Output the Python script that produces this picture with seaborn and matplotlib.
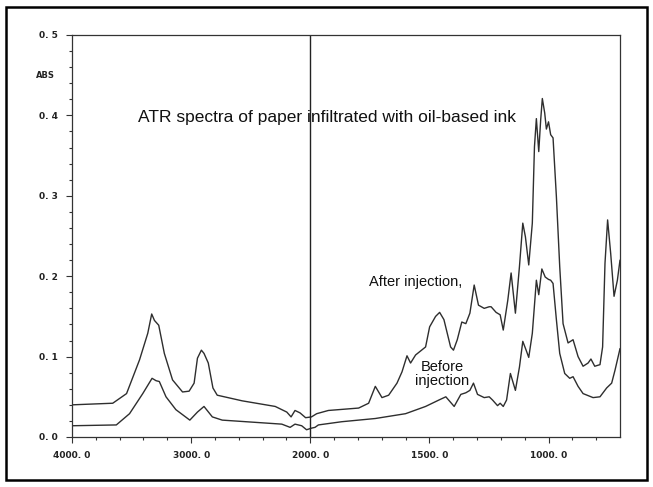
# ATR spectra - before / after ink injection
import numpy as np
import pandas as pd
import matplotlib
matplotlib.use('Agg')
import matplotlib.pyplot as plt
import seaborn as sns
from matplotlib.patches import Rectangle

# data (wavenumber cm-1, absorbance)
after_wn = [4000, 3658, 3542, 3433, 3364, 3331, 3308, 3272, 3225, 3156, 3072, 3017,
            2975, 2947, 2914, 2892, 2856, 2817, 2781, 2572, 2294, 2197, 2161, 2128,
            2086, 2039, 1995, 1973, 1924, 1797, 1755, 1727, 1699, 1671, 1636, 1615,
            1594, 1579, 1558, 1516, 1499, 1474, 1457, 1439, 1425, 1411, 1399, 1383,
            1364, 1347, 1330, 1312, 1294, 1270, 1249, 1241, 1220, 1203, 1190, 1171,
            1157, 1139, 1122, 1108, 1097, 1083, 1068, 1059, 1051, 1041, 1033, 1026,
            1016, 1009, 1000, 991, 981, 967, 953, 939, 918, 897, 876, 855, 834, 822,
            806, 784, 773, 763, 752, 739, 725, 711, 700]
after_abs = [0.040, 0.042, 0.054, 0.096, 0.129, 0.153, 0.145, 0.139, 0.104, 0.071, 0.056, 0.057,
             0.067, 0.098, 0.108, 0.104, 0.092, 0.061, 0.052, 0.045, 0.038, 0.031, 0.025, 0.033,
             0.030, 0.024, 0.025, 0.029, 0.033, 0.036, 0.042, 0.063, 0.049, 0.052, 0.067, 0.081,
             0.101, 0.092, 0.102, 0.112, 0.137, 0.150, 0.155, 0.146, 0.129, 0.112, 0.108, 0.121,
             0.143, 0.141, 0.154, 0.189, 0.164, 0.160, 0.162, 0.162, 0.155, 0.152, 0.133, 0.170,
             0.204, 0.154, 0.212, 0.266, 0.249, 0.214, 0.266, 0.361, 0.396, 0.355, 0.394, 0.421,
             0.403, 0.383, 0.392, 0.376, 0.372, 0.299, 0.212, 0.141, 0.117, 0.121, 0.100, 0.088, 0.092, 0.097,
             0.088, 0.090, 0.112, 0.216, 0.270, 0.228, 0.175, 0.195, 0.220]

before_wn = [4000, 3628, 3517, 3406, 3328, 3294, 3267, 3211, 3128, 3011, 2947, 2892,
             2822, 2739, 2239, 2169, 2128, 2072, 2031, 1995, 1980, 1966, 1868, 1727,
             1600, 1516, 1460, 1431, 1396, 1368, 1347, 1330, 1315, 1298, 1270, 1249,
             1235, 1214, 1203, 1190, 1176, 1160, 1139, 1122, 1108, 1094, 1083, 1068,
             1051, 1041, 1028, 1014, 1000, 991, 981, 967, 953, 932, 911, 897, 876,
             855, 813, 784, 756, 735, 721, 703, 700]
before_abs = [0.014, 0.015, 0.029, 0.054, 0.073, 0.070, 0.069, 0.050, 0.034, 0.021, 0.031, 0.038,
              0.025, 0.021, 0.016, 0.012, 0.016, 0.014, 0.009, 0.011, 0.012, 0.015, 0.019, 0.023,
              0.029, 0.038, 0.046, 0.050, 0.038, 0.053, 0.055, 0.058, 0.067, 0.053, 0.049, 0.050,
              0.046, 0.039, 0.042, 0.038, 0.046, 0.079, 0.058, 0.087, 0.119, 0.108, 0.099, 0.129,
              0.195, 0.177, 0.209, 0.199, 0.196, 0.195, 0.191, 0.146, 0.104, 0.079, 0.073, 0.075, 0.063,
              0.054, 0.049, 0.050, 0.061, 0.067, 0.083, 0.106, 0.110]

x_major = [4000, 3000, 2000, 1500, 1000]
x_labels = ['4000. 0', '3000. 0', '2000. 0', '1500. 0', '1000. 0']
y_major = [0.0, 0.1, 0.2, 0.3, 0.4, 0.5]
y_labels = ['0. 0', '0. 1', '0. 2', '0. 3', '0. 4', '0. 5']

after = pd.DataFrame({'wn': after_wn, 'abs': after_abs})
before = pd.DataFrame({'wn': before_wn, 'abs': before_abs})

sns.set_style('ticks')
plt.rcParams['font.family'] = ['Liberation Sans', 'DejaVu Sans']

fig = plt.figure(figsize=(6.53, 4.87), dpi=100)
ax = fig.add_axes([72/653, 1-437/487, 548/653, 402/487])

line_col = '#2e2e2e'
sns.lineplot(data=after, x='wn', y='abs', ax=ax, color=line_col, lw=1.0, estimator=None, sort=False)
sns.lineplot(data=before, x='wn', y='abs', ax=ax, color=line_col, lw=1.0, estimator=None, sort=False)

# IR-style axis: scale doubles below 2000 cm-1
def fwd(w):
    w = np.asarray(w, dtype=float)
    return np.where(w >= 2000, w, 2*w - 2000)

def inv(p):
    p = np.asarray(p, dtype=float)
    return np.where(p >= 2000, p, (p + 2000) / 2)

ax.set_xscale('function', functions=(fwd, inv))
ax.set_xlim(4000, 700)
ax.set_ylim(0, 0.5)

ax.axvline(2000, color='#222222', lw=1.0)

ax.set_xticks(x_major)
ax.set_xticklabels(x_labels)
ax.set_xticks(list(range(3800, 2000, -200)) + [1900, 1800, 1700, 1600, 1400, 1300, 1200, 1100, 900, 800], minor=True)
ax.set_yticks(y_major)
ax.set_yticklabels(y_labels)
ax.set_yticks([v/100 for v in range(2, 50, 2) if v % 10], minor=True)

ax.tick_params(which='major', direction='out', length=4, width=0.8, color='#333333', pad=6,
               labelsize=6.5, labelcolor='#222222')
ax.tick_params(which='minor', direction='out', length=2.5, width=0.8, color='#333333')
for lab in ax.get_xticklabels() + ax.get_yticklabels():
    lab.set_fontweight('bold')
    lab.set_family('DejaVu Sans')

for s in ax.spines.values():
    s.set_visible(True)
    s.set_color('#333333')
    s.set_linewidth(0.9)

ax.set_xlabel('')
ax.set_ylabel('')

ax.text(-0.032, 0.45, 'ABS', transform=ax.get_yaxis_transform(), ha='right', va='center',
        fontsize=6, fontweight='bold', family='DejaVu Sans', color='#222222')

ax.text(0.12, 0.796, 'ATR spectra of paper infiltrated with oil-based ink', transform=ax.transAxes,
        ha='left', va='center', fontsize=12.5, color='#111111')
ax.text(0.542, 0.386, 'After injection,', transform=ax.transAxes,
        ha='left', va='center', fontsize=10.5, color='#111111')
ax.text(0.675, 0.157, 'Before\ninjection', transform=ax.transAxes,
        ha='center', va='center', fontsize=10.5, color='#111111', linespacing=1.05)

fig.patches.append(Rectangle((6/653, 7/487), 641/653, 473/487, transform=fig.transFigure,
                             fill=False, lw=1.8, ec='black'))

fig.savefig('out.png', dpi=100, facecolor='white')
